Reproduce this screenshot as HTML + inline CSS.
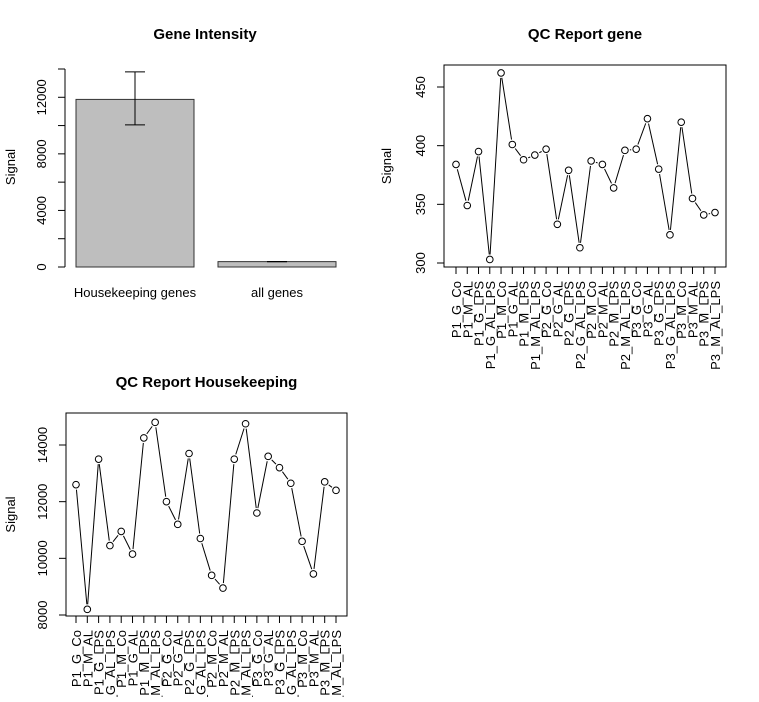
<!DOCTYPE html>
<html><head><meta charset="utf-8"><style>
body{margin:0;background:#fff}
svg{font-family:"Liberation Sans",Arial,sans-serif}
</style></head><body>
<svg id="s" width="759" height="697" viewBox="0 0 759 697"></svg>
<script>
const barCats=["Housekeeping genes","all genes"];
const barVals=[11850,380];
const barErrLo=[10050,370];
const barErrHi=[13800,390];
const barTicks=[0,4000,8000,12000];
const sampleLabels=["P1_G_Co","P1_M_AL","P1_G_LPS","P1_G_AL_LPS","P1_M_Co","P1_G_AL","P1_M_LPS","P1_M_AL_LPS","P2_G_Co","P2_G_AL","P2_G_LPS","P2_G_AL_LPS","P2_M_Co","P2_M_AL","P2_M_LPS","P2_M_AL_LPS","P3_G_Co","P3_G_AL","P3_G_LPS","P3_G_AL_LPS","P3_M_Co","P3_M_AL","P3_M_LPS","P3_M_AL_LPS"];
const geneVals=[384,349,395,303,462,401,388,392,397,333,379,313,387,384,364,396,397,423,380,324,420,355,341,343];
const geneTicks=[300,350,400,450];
const hkVals=[12600,8200,13500,10450,10950,10150,14250,14800,12000,11200,13700,10700,9400,8950,13500,14750,11600,13600,13200,12650,10600,9450,12700,12400];
const hkTicks=[8000,10000,12000,14000];

const S=document.getElementById('s');
const NS='http://www.w3.org/2000/svg';
function mk(t,a,p){const e=document.createElementNS(NS,t);for(const k in a)e.setAttribute(k,a[k]);(p||S).appendChild(e);return e;}
function txt(x,y,s,a,p){const e=mk('text',Object.assign({x:x,y:y,'font-size':13,fill:'#000'},a),p);e.textContent=s;return e;}

// ---- bar chart ----
{
const g=mk('g',{});


const y=v=>267-v*198/14000;
const t=txt(205,39,'Gene Intensity',{'font-size':15,'font-weight':'bold','text-anchor':'middle'},g);

mk('line',{x1:65,x2:65,y1:y(0),y2:y(14000),stroke:'#000'},g);
for(let v=0;v<=14000;v+=2000)mk('line',{x1:58,x2:65,y1:y(v),y2:y(v),stroke:'#000'},g);
barTicks.forEach(v=>{const e=txt(46,y(v),String(v),{'text-anchor':'middle',transform:`rotate(-90 46 ${y(v)})`},g);});
const yl=txt(15,167,'Signal',{'text-anchor':'middle',transform:'rotate(-90 15 167)'},g);

const bx=[76,218],bw=118;
barCats.forEach((c,i)=>{
 const r=mk('rect',{x:bx[i],y:y(barVals[i]),width:bw,height:y(0)-y(barVals[i]),fill:'#bebebe',stroke:'#333'},g);
 
 const cx=bx[i]+bw/2;
 mk('line',{x1:cx,x2:cx,y1:y(barErrLo[i]),y2:y(barErrHi[i]),stroke:'#000'},g);
 mk('line',{x1:cx-10,x2:cx+10,y1:y(barErrLo[i]),y2:y(barErrLo[i]),stroke:'#000'},g);
 mk('line',{x1:cx-10,x2:cx+10,y1:y(barErrHi[i]),y2:y(barErrHi[i]),stroke:'#000'},g);
 const l=txt(cx,297,c,{'text-anchor':'middle'},g);
 
});
}

// ---- line charts ----
function lineChart(name,title,titleY,box,px,vals,ticks,tmin,tmax,yMinPx,yMaxPx,ylabX){
 const g=mk('g',{});
 
 
 const [L,T,R,B]=box;
 const y=v=>yMinPx-(v-tmin)*(yMinPx-yMaxPx)/(tmax-tmin);
 const n=vals.length,x0=px[0],x1=px[1];
 const x=i=>x0+i*(x1-x0)/(n-1);
 const t=txt((L+R)/2,titleY,title,{'font-size':15,'font-weight':'bold','text-anchor':'middle'},g);
 
 mk('rect',{x:L,y:T,width:R-L,height:B-T,fill:'none',stroke:'#000'},g);
 ticks.forEach(v=>{mk('line',{x1:L-7,x2:L,y1:y(v),y2:y(v),stroke:'#000'},g);
  const e=txt(L-19,y(v),String(v),{'text-anchor':'middle',transform:`rotate(-90 ${L-19} ${y(v)})`},g);
  });
 mk('line',{x1:L,x2:L,y1:y(ticks[0]),y2:y(ticks[ticks.length-1]),stroke:'#000'},g);
 const yl=txt(ylabX,(T+B)/2,'Signal',{'text-anchor':'middle',transform:`rotate(-90 ${ylabX} ${(T+B)/2})`},g);
 
 mk('line',{x1:x(0),x2:x(n-1),y1:B,y2:B,stroke:'#000'},g);
 for(let i=0;i<n;i++){
  mk('line',{x1:x(i),x2:x(i),y1:B,y2:B+7,stroke:'#000'},g);
  const l=txt(x(i)+5,B+14,sampleLabels[i],{'text-anchor':'end',transform:`rotate(-90 ${x(i)+5} ${B+14})`},g);
  
 }
 for(let i=0;i<n-1;i++){
  const ax=x(i),ay=y(vals[i]),bx=x(i+1),by=y(vals[i+1]);
  const d=Math.hypot(bx-ax,by-ay);if(d<10)continue;
  const ux=(bx-ax)/d,uy=(by-ay)/d;
  mk('line',{x1:ax+ux*5,y1:ay+uy*5,x2:bx-ux*5,y2:by-uy*5,stroke:'#000'},g);
 }
 vals.forEach((v,i)=>{const c=mk('circle',{cx:x(i),cy:y(v),r:3.3,fill:'none',stroke:'#000'},g);
  });
}
lineChart('qc-report-gene-chart','QC Report gene',39,[444,65,726,267],[456,715],geneVals,geneTicks,300,450,263,87,391);
lineChart('qc-report-housekeeping-chart','QC Report Housekeeping',387,[66,413,347,616],[76,336],hkVals,hkTicks,8000,14000,615,445,15);
</script>
</body></html>
